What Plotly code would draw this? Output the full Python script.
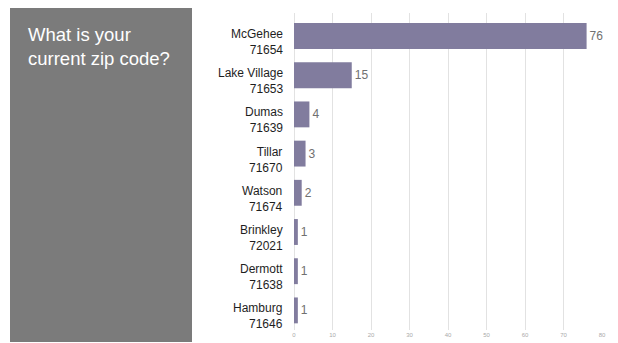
import plotly.graph_objects as go

towns = ["McGehee", "Lake Village", "Dumas", "Tillar", "Watson", "Brinkley", "Dermott", "Hamburg"]
zips = ["71654", "71653", "71639", "71670", "71674", "72021", "71638", "71646"]
counts = [76, 15, 4, 3, 2, 1, 1, 1]
x_ticks = [0, 10, 20, 30, 40, 50, 60, 70, 80]
title_text = "What is your<br>current zip code?"

# page has an 8px body margin, so figure coords = screen coords - 8
W, H = 610, 335
L, R, T, B = 286, 16, 5, 10
pw, ph = W - L - R, H - T - B

def px_x(p):
    return (p - L) / pw

def px_y(p):
    return (H - B - p) / ph

FONT = "Liberation Sans, Arial, sans-serif"

fig = go.Figure(go.Bar(
    x=counts, y=towns, orientation="h",
    marker=dict(color="#817c9e", line=dict(width=0)),
    text=[str(c) for c in counts], textposition="outside",
    textfont=dict(color="#707070", size=12, family=FONT),
    outsidetextfont=dict(color="#707070", size=12, family=FONT),
    cliponaxis=False,
    hoverinfo="skip",
))

annotations = []
for t, z in zip(towns, zips):
    annotations.append(dict(text=f"{t}<br>{z}", xref="x", yref="y", x=0, y=t,
                            xanchor="right", yanchor="middle", align="right",
                            xshift=-9, yshift=-6, showarrow=False,
                            font=dict(size=12, color="#1e1e1e", family=FONT)))

annotations.append(dict(text=title_text, xref="paper", yref="paper", x=px_x(18), y=px_y(14),
                        xanchor="left", yanchor="top", align="left", showarrow=False,
                        font=dict(size=18.5, color="white", family=FONT)))

fig.update_layout(
    width=W, height=H,
    margin=dict(l=L, r=R, t=T, b=B),
    paper_bgcolor="white", plot_bgcolor="white",
    bargap=0.34,
    showlegend=False,
    font=dict(family=FONT, color="#707070"),
    xaxis=dict(range=[0, 80], tickvals=x_ticks, showgrid=True, gridcolor="#e2e2e2", gridwidth=1,
               zeroline=True, zerolinecolor="#e2e2e2", zerolinewidth=1,
               tickfont=dict(size=6, color="#aaaaaa"), showline=False, fixedrange=True),
    yaxis=dict(autorange="reversed", showticklabels=False, showgrid=False, showline=False,
               zeroline=False),
    shapes=[dict(type="rect", xref="paper", yref="paper",
                 x0=px_x(2), x1=px_x(184), y0=px_y(H + 2), y1=px_y(-2),
                 fillcolor="#7b7b7b", line=dict(width=0), layer="below")],
    annotations=annotations,
)

fig.write_html("out.html")
